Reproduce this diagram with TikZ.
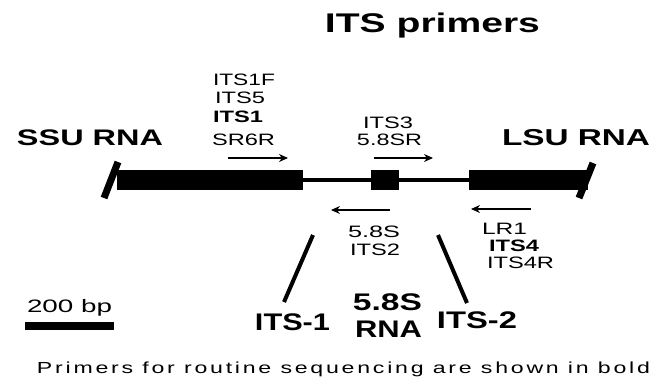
\documentclass[tikz,border=0pt]{standalone}
\usepackage{fontspec}
\setmainfont{Liberation Sans}
\usepackage{graphicx}
\usetikzlibrary{arrows.meta}
\newcommand\fw[2]{\resizebox{#1pt}{\height}{#2}}
\tikzset{
  lab/.style={inner sep=0pt, anchor=base, font=\fontsize{16.5}{18}\selectfont},
  blab/.style={inner sep=0pt, anchor=base, font=\bfseries\fontsize{16.5}{18}\selectfont},
  big/.style={inner sep=0pt, anchor=base, font=\bfseries\fontsize{24}{26}\selectfont},
  seg/.style={fill=black, draw=none},
  thin/.style={line width=3.5pt},
  endcap/.style={line width=7pt},
  primer/.style={line width=1.3pt, -{Stealth[length=9pt,width=8pt]}},
  region/.style={line width=4pt},
}
\begin{document}
\begin{tikzpicture}[x=1pt,y=-1pt]
\useasboundingbox (0,0) rectangle (657,381);
\fill[white] (0,0) rectangle (657,381);

% title
\node[inner sep=0pt, anchor=base, font=\bfseries\fontsize{27}{30}\selectfont] (title) at (432.5,32) {\fw{215}{ITS primers}};

% RNA names
\node[inner sep=0pt, anchor=base, font=\bfseries\fontsize{22.5}{24}\selectfont] (ssu) at (90,145) {\fw{146}{SSU RNA}};
\node[inner sep=0pt, anchor=base, font=\bfseries\fontsize{23}{24}\selectfont] (lsu) at (576,145) {\fw{148}{LSU RNA}};

% gene body
\node[seg, inner sep=0pt, minimum width=186pt, minimum height=20pt, anchor=north west] (ssubar) at (117,170) {};
\node[seg, inner sep=0pt, minimum width=28pt, minimum height=20pt, anchor=north west] (box58) at (371,170) {};
\node[seg, inner sep=0pt, minimum width=119pt, minimum height=20pt, anchor=north west] (lsubar) at (469,170) {};
\draw[thin] (ssubar.east) -- (box58.west);
\draw[thin] (box58.east) -- (lsubar.west);
\coordinate (lt) at (118,162);
\coordinate (lb) at (104,198);
\coordinate (rt) at (593,163);
\coordinate (rb) at (579,198);
\draw[endcap] (lt) -- (lb);
\draw[endcap] (rt) -- (rb);

% forward primers
\node[lab] (its1f) at (244,85) {\fw{62}{ITS1F}};
\node[lab] (its5) at (240,103) {\fw{50}{ITS5}};
\node[blab] (its1) at (238,122) {\fw{50}{ITS1}};
\node[lab] (sr6r) at (243.5,145) {\fw{63}{SR6R}};
\node[lab] (its3) at (388,128) {\fw{50}{ITS3}};
\node[lab] (sr58) at (389.5,145) {\fw{65}{5.8SR}};
\coordinate (a1s) at (228,158);
\coordinate (a1e) at (288,158);
\coordinate (a2s) at (374,158);
\coordinate (a2e) at (433,158);
\draw[primer] (a1s) -- (a1e);
\draw[primer] (a2s) -- (a2e);

% reverse primers
\coordinate (a3s) at (390,210);
\coordinate (a3e) at (331,210);
\coordinate (a4s) at (531,209);
\coordinate (a4e) at (471,209);
\draw[primer] (a3s) -- (a3e);
\draw[primer] (a4s) -- (a4e);
\node[lab] (s58) at (374,237) {\fw{52}{5.8S}};
\node[lab] (its2) at (375,255) {\fw{50}{ITS2}};
\node[lab] (lr1) at (504.5,234) {\fw{45}{LR1}};
\node[blab] (its4) at (514,251) {\fw{50}{ITS4}};
\node[lab] (its4r) at (520.5,268) {\fw{67}{ITS4R}};

% region labels
\coordinate (l1t) at (313,235);
\coordinate (l1b) at (284,302);
\coordinate (l2t) at (438,235);
\coordinate (l2b) at (467,303);
\draw[region] (l1t) -- (l1b);
\draw[region] (l2t) -- (l2b);
\node[big] (itsone) at (292.5,330) {\fw{75}{ITS-1}};
\node[big] (big58) at (387.5,310) {\fw{69}{5.8S}};
\node[big] (bigrna) at (388.5,337) {\fw{67}{RNA}};
\node[big] (itstwo) at (477,328) {\fw{80}{ITS-2}};

% scale bar
\node[inner sep=0pt, anchor=base, font=\fontsize{18}{20}\selectfont] (scale) at (69.5,312) {\fw{85}{200 bp}};
\node[seg, inner sep=0pt, minimum width=89pt, minimum height=8pt, anchor=north west] (bar) at (25,322) {};

% caption
\node[inner sep=0pt, anchor=base, font=\fontsize{16}{18}\selectfont\addfontfeature{LetterSpace=12}] (caption) at (343.5,373) {\fw{613}{Primers for routine sequencing are shown in bold}};
\end{tikzpicture}
\end{document}
